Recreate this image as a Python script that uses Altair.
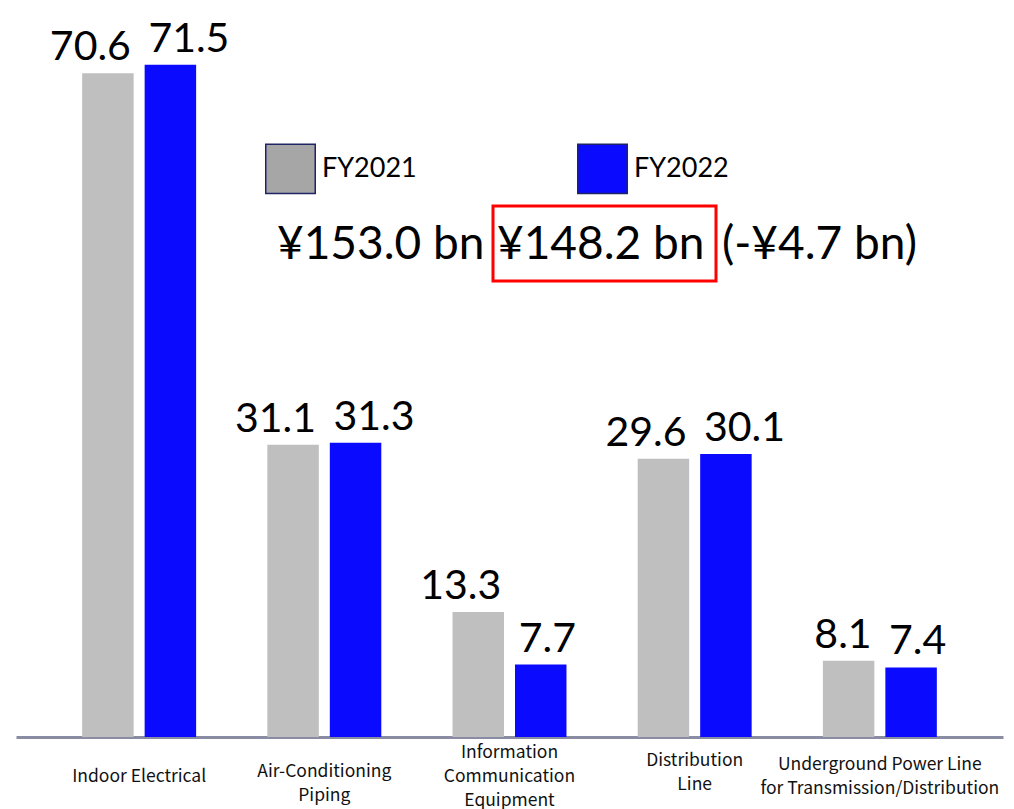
import altair as alt
import pandas as pd

# Sales by business segment (¥ bn)
categories = [
    "Indoor Electrical",
    "Air-Conditioning\nPiping",
    "Information\nCommunication\nEquipment",
    "Distribution\nLine",
    "Underground Power Line\nfor Transmission/Distribution",
]
fy2021 = [70.6, 31.1, 13.3, 29.6, 8.1]
fy2022 = [71.5, 31.3, 7.7, 30.1, 7.4]
years = ["FY2021", "FY2022"]
colors = ["#BFBFBF", "#0A0AFF"]
legend_fills = ["#A6A6A6", "#0A0AFF"]

total_prev = "¥153.0 bn"
total_curr = "¥148.2 bn"
total_diff = "(-¥4.7 bn)"

rows = []
for cat, a, b in zip(categories, fy2021, fy2022):
    rows.append({"category": cat, "year": years[0], "value": a})
    rows.append({"category": cat, "year": years[1], "value": b})
df = pd.DataFrame(rows)

# distance from the baseline to the first line of each category label
label_pad = {
    "Air-Conditioning": 34,
    "Information": 15,
    "Distribution": 23,
    "Underground": 27,
}
pad_condition = {
    "condition": [
        {"test": f"indexof(datum.value, '{key}') === 0", "value": pad}
        for key, pad in label_pad.items()
    ],
    "value": 39,
}

x_enc = alt.X(
    "category:N",
    sort=categories,
    scale=alt.Scale(paddingInner=0, paddingOuter=0.165),
    axis=alt.Axis(
        title=None,
        labelAngle=0,
        ticks=False,
        tickSize=0,
        domainColor="#8A8CA3",
        domainWidth=3,
        labelFont="Noto Sans CJK JP",
        labelFontSize=17.5,
        labelColor="#111111",
        labelBaseline="middle",
        labelLineHeight=24,
        labelLimit=0,
        labelPadding=pad_condition,
        labelExpr="split(datum.label, '\\n')",
    ),
)
xoff_enc = alt.XOffset(
    "year:N", sort=years, scale=alt.Scale(paddingInner=0.176, paddingOuter=0.57)
)
y_enc = alt.Y("value:Q", scale=alt.Scale(domain=[0, 78.4], nice=False), axis=None)

bars = alt.Chart(df).mark_bar().encode(
    x=x_enc,
    xOffset=xoff_enc,
    y=y_enc,
    color=alt.Color(
        "year:N", sort=years, scale=alt.Scale(domain=years, range=colors), legend=None
    ),
)

# Legend keys: invisible squares carrying their own colour scale
legend_keys = alt.Chart(df).mark_square(size=0).encode(
    x=x_enc,
    y=y_enc,
    color=alt.Color(
        "year:N",
        sort=years,
        scale=alt.Scale(domain=years, range=legend_fills),
        legend=alt.Legend(
            title=None,
            orient="none",
            legendX=249,
            legendY=143,
            direction="horizontal",
            columns=2,
            columnPadding=157,
            padding=0,
            symbolType="square",
            symbolSize=2450,
            symbolOpacity=1,
            symbolStrokeWidth=1.5,
            symbolStrokeColor="#1F2466",
            labelFont="Lato",
            labelFontSize=27,
            labelColor="#000000",
            labelOffset=6,
        ),
    ),
)

label_style = dict(font="Lato", fontSize=41, color="#000000", baseline="alphabetic", dy=-13)

labels_prev = alt.Chart(df).transform_filter(
    alt.datum.year == years[0]
).mark_text(align="right", dx=23, **label_style).encode(
    x=x_enc, xOffset=xoff_enc, y=y_enc, text=alt.Text("value:Q", format=".1f")
)

labels_curr = alt.Chart(df).transform_filter(
    alt.datum.year == years[1]
).mark_text(align="left", dx=-22, **label_style).encode(
    x=x_enc, xOffset=xoff_enc, y=y_enc, text=alt.Text("value:Q", format=".1f")
)

one = pd.DataFrame({"k": [0]})
head_style = dict(font="Lato", fontSize=46, color="#000000", align="left", baseline="alphabetic")

head_prev = alt.Chart(one).mark_text(**head_style).encode(
    x=alt.value(261), y=alt.value(259), text=alt.value(total_prev)
)
head_curr = alt.Chart(one).mark_text(**head_style).encode(
    x=alt.value(481), y=alt.value(259), text=alt.value(total_curr)
)
head_diff = alt.Chart(one).mark_text(**head_style).encode(
    x=alt.value(706), y=alt.value(259), text=alt.value(total_diff)
)
highlight = alt.Chart(one).mark_rect(
    fill=None, fillOpacity=0, stroke="#FF0000", strokeWidth=3
).encode(
    x=alt.value(477), x2=alt.value(700), y=alt.value(206), y2=alt.value(281)
)

chart = alt.layer(
    bars, legend_keys, labels_prev, labels_curr, head_prev, head_curr, head_diff, highlight
).resolve_scale(color="independent").properties(
    width=987,
    height=737,
    autosize=alt.AutoSizeParams(type="none"),
    padding={"left": 16, "top": 0, "right": 11, "bottom": 72},
    background="#FFFFFF",
).configure_view(stroke=None)

chart.save("out.html", embed_options={"renderer": "svg", "actions": False})
